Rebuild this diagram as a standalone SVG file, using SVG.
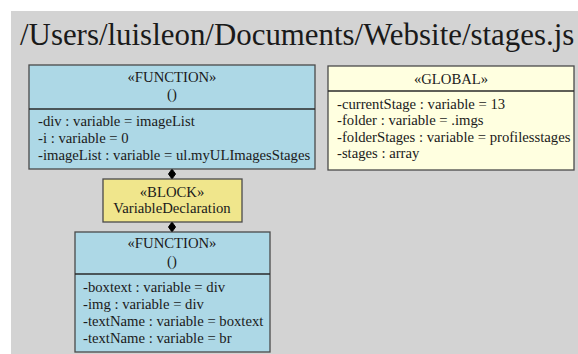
<svg xmlns="http://www.w3.org/2000/svg" width="578" height="354" viewBox="0 0 578 354">
  <style>
    text { font-family: "Liberation Serif", "Times New Roman", serif; fill: #1a1a1a; }
    .title { font-size: 30.9px; }
    .t { font-size: 14.7px; }
    .c { text-anchor: middle; }
    .fn { fill: #add8e6; stroke: #4a4a4a; stroke-width: 1.3; }
    .gl { fill: #ffffe0; stroke: #4a4a4a; stroke-width: 1.3; }
    .bk { fill: #f0e68c; stroke: #4a4a4a; stroke-width: 1.3; }
    .div { stroke: #2a2a2a; stroke-width: 1.3; }
    .edge { stroke: #000; stroke-width: 1; fill: none; }
    .dia { fill: #000; stroke: #000; }
  </style>

  <!-- canvas -->
  <rect x="0" y="0" width="578" height="354" fill="#ffffff"/>
  <rect x="11" y="11" width="567" height="343" fill="#d3d3d3"/>

  <text class="title" x="20" y="45">/Users/luisleon/Documents/Website/stages.js</text>

  <!-- connectors (composition) -->
  <g id="edges">
    <line class="edge" x1="172" y1="169" x2="172" y2="179"/>
    <polygon class="dia" points="172,169 175.5,174 172,179 168.5,174"/>
    <line class="edge" x1="172" y1="222" x2="172" y2="232"/>
    <polygon class="dia" points="172,222 175.5,227 172,232 168.5,227"/>
  </g>

  <g id="function1">
    <rect class="fn" x="29" y="65" width="286" height="104"/>
    <line class="div" x1="29" y1="109" x2="315" y2="109"/>
    <text class="t c" x="172" y="82">«FUNCTION»</text>
    <text class="t c" x="172" y="99">()</text>
    <text class="t" x="38" y="126">-div : variable = imageList</text>
    <text class="t" x="38" y="143">-i : variable = 0</text>
    <text class="t" x="38" y="160">-imageList : variable = ul.myULImagesStages</text>
  </g>

  <g id="global">
    <rect class="gl" x="328" y="66" width="246" height="104"/>
    <line class="div" x1="328" y1="91" x2="574" y2="91"/>
    <text class="t c" x="451" y="84">«GLOBAL»</text>
    <text class="t" x="337" y="109">-currentStage : variable = 13</text>
    <text class="t" x="337" y="125">-folder : variable = .imgs</text>
    <text class="t" x="337" y="142">-folderStages : variable = profilesstages</text>
    <text class="t" x="337" y="158">-stages : array</text>
  </g>

  <g id="block">
    <rect class="bk" x="103" y="179" width="139" height="43"/>
    <text class="t c" x="172" y="197">«BLOCK»</text>
    <text class="t c" x="172" y="213">VariableDeclaration</text>
  </g>

  <g id="function2">
    <rect class="fn" x="75" y="232" width="195" height="120"/>
    <line class="div" x1="75" y1="274" x2="270" y2="274"/>
    <text class="t c" x="172" y="248">«FUNCTION»</text>
    <text class="t c" x="172" y="266">()</text>
    <text class="t" x="83" y="292">-boxtext : variable = div</text>
    <text class="t" x="83" y="309">-img : variable = div</text>
    <text class="t" x="83" y="326">-textName : variable = boxtext</text>
    <text class="t" x="83" y="343">-textName : variable = br</text>
  </g>
</svg>
